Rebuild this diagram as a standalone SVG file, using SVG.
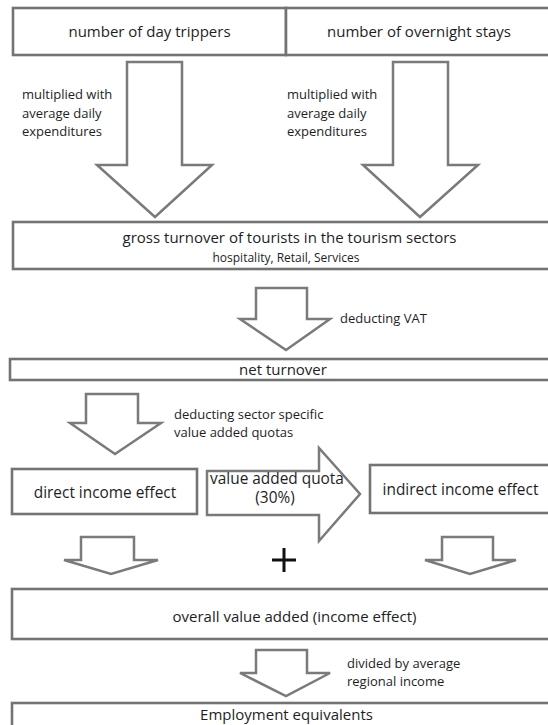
<svg xmlns="http://www.w3.org/2000/svg" width="548" height="725" viewBox="0 0 548 725">
  <style>
    .box { fill: #ffffff; stroke: #737373; stroke-width: 2.6; }
    .arrow { fill: #ffffff; stroke: #7a7a7a; stroke-width: 2.5; stroke-linejoin: miter; }
    text { font-family: "Open Sans", "Liberation Sans", sans-serif; fill: #1e1e1e; }
    .t15 { font-size: 15px; }
    .t16 { font-size: 15.4px; }
    .t13 { font-size: 13px; }
    .t11 { font-size: 12px; }
    .mid { text-anchor: middle; }
  </style>
  <rect width="548" height="725" fill="#ffffff"/>

  <!-- connectors: hollow block arrows between the steps -->
  <g id="connectors">
    <polygon class="arrow" points="127,62 182,62 182,165 212,165 155,217 97,165 127,165"/>
    <polygon class="arrow" points="393,62 448,62 448,165 478,165 420,217 363,165 393,165"/>
    <polygon class="arrow" points="256,288 307,288 307,319 330,319 286,350 240,319 256,319"/>
    <polygon class="arrow" points="86,394 138,394 138,423 161,423 115,454 70,423 86,423"/>
    <polygon class="arrow" points="207,471 319,471 319,448 360,494 319,541 319,515 207,515"/>
    <polygon class="arrow" points="81,537 134,537 134,560 158,560 111,574 64,560 81,560"/>
    <polygon class="arrow" points="442,537 493,537 493,560 516,560 470,574 425,560 442,560"/>
    <polygon class="arrow" points="256,650 307,650 307,673 330,673 286,696 240,673 256,673"/>
    <path d="M272,560 H296 M284,548 V572" stroke="#111111" stroke-width="3" fill="none"/>
  </g>

  <!-- step labels beside the arrows -->
  <g id="arrow-labels">
    <text class="t13" x="22" y="99">multiplied with</text>
    <text class="t13" x="22" y="117.5">average daily</text>
    <text class="t13" x="22" y="136">expenditures</text>
    <text class="t13" x="287" y="99">multiplied with</text>
    <text class="t13" x="287" y="117.5">average daily</text>
    <text class="t13" x="287" y="136">expenditures</text>
    <text class="t13" x="340" y="323">deducting VAT</text>
    <text class="t13" x="174" y="419">deducting sector specific</text>
    <text class="t13" x="174" y="437">value added quotas</text>
    <text class="t16 mid" x="277" y="484">value added quota</text>
    <text class="t16 mid" x="275" y="503">(30%)</text>
    <text class="t13" x="347" y="668">divided by average</text>
    <text class="t13" x="347" y="686">regional income</text>
  </g>

  <g id="day-trippers">
    <rect class="box" x="13" y="8" width="273" height="47"/>
    <text class="t15 mid" x="149.5" y="37">number of day trippers</text>
  </g>
  <g id="overnight-stays">
    <rect class="box" x="286" y="8" width="280" height="47"/>
    <text class="t15 mid" x="419" y="37">number of overnight stays</text>
  </g>
  <g id="gross-turnover">
    <rect class="box" x="13" y="222" width="560" height="47"/>
    <text class="t15 mid" x="289.5" y="243">gross turnover of tourists in the tourism sectors</text>
    <text class="t11 mid" x="286" y="262">hospitality, Retail, Services</text>
  </g>
  <g id="net-turnover">
    <rect class="box" x="10" y="359" width="560" height="21"/>
    <text class="t15 mid" x="283" y="375">net turnover</text>
  </g>
  <g id="direct-income">
    <rect class="box" x="12" y="469" width="185" height="45"/>
    <text class="t16 mid" x="105" y="498">direct income effect</text>
  </g>
  <g id="indirect-income">
    <rect class="box" x="370" y="465" width="200" height="48"/>
    <text class="t16 mid" x="460.5" y="495">indirect income effect</text>
  </g>
  <g id="overall-value-added">
    <rect class="box" x="12" y="589" width="560" height="50"/>
    <text class="t15 mid" x="294.5" y="622">overall value added (income effect)</text>
  </g>
  <g id="employment">
    <rect class="box" x="12" y="703" width="560" height="40"/>
    <text class="t15 mid" x="286.5" y="720">Employment equivalents</text>
  </g>
</svg>
